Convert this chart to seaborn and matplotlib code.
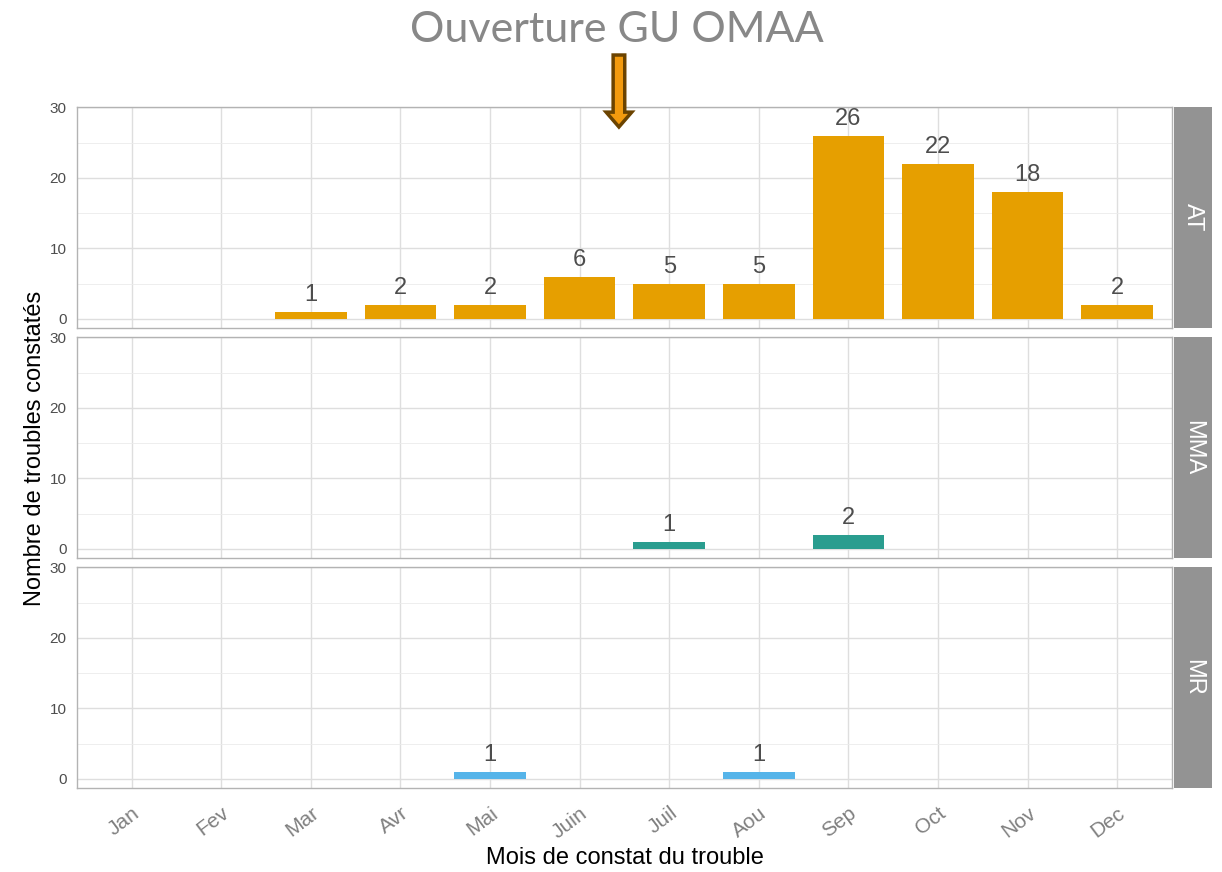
import matplotlib
matplotlib.use("Agg")
import matplotlib.pyplot as plt
import seaborn as sns
from matplotlib.patches import FancyArrow, Rectangle

# data
months = ["Jan", "Fev", "Mar", "Avr", "Mai", "Juin", "Juil", "Aou", "Sep", "Oct", "Nov", "Dec"]
at_counts = [0, 0, 1, 2, 2, 6, 5, 5, 26, 22, 18, 2]
mma_counts = [0, 0, 0, 0, 0, 0, 1, 0, 2, 0, 0, 0]
mr_counts = [0, 0, 0, 0, 1, 0, 0, 1, 0, 0, 0, 0]
facets = ["AT", "MMA", "MR"]
colors = ["#E69F00", "#2A9D8F", "#56B4E9"]
y_ticks = [0, 10, 20, 30]

sns.set_style("white")
plt.rcParams["font.family"] = ["Liberation Sans", "DejaVu Sans"]

fig = plt.figure(figsize=(12.22, 8.72), dpi=100)

left, width = 0.063, 0.896
bottoms = [0.6239, 0.3601, 0.0963]
height = 0.2534

for i, (name, vals, col) in enumerate(zip(facets, [at_counts, mma_counts, mr_counts], colors)):
    ax = fig.add_axes([left, bottoms[i], width, height])
    sns.barplot(x=months, y=vals, ax=ax, color=col, width=0.8, linewidth=0, saturation=1)
    ax.set_xlim(-0.61, 11.61)
    ax.set_ylim(-1.28, 30.05)
    ax.set_yticks(y_ticks)
    ax.set_yticks([5, 15, 25], minor=True)
    ax.set_xticks(range(len(months)))
    ax.grid(True, which="major", color="#DEDEDE", linewidth=1.0)
    ax.grid(True, which="minor", axis="y", color="#EBEBEB", linewidth=0.6)
    ax.set_axisbelow(True)
    for s in ax.spines.values():
        s.set_color("#B3B3B3")
        s.set_linewidth(1.0)
    ax.tick_params(axis="both", which="major", color="#B3B3B3", length=4, width=0.8,
                   labelsize=11, labelcolor="#4D4D4D")
    ax.tick_params(axis="y", which="minor", length=0)
    ax.set_xlabel("")
    ax.set_ylabel("")
    labels = [str(v) if v > 0 else "" for v in vals]
    ax.bar_label(ax.containers[0], labels=labels, padding=4, fontsize=17, color="#4D4D4D")
    if i < 2:
        ax.tick_params(axis="x", labelbottom=False, length=0)
    else:
        ax.set_xticklabels(months, rotation=37, ha="right", rotation_mode="anchor",
                           fontsize=15, color="#808080")
        ax.tick_params(axis="x", pad=7)

    # facet strip
    fig.add_artist(Rectangle((0.9607, bottoms[i]), 0.0311, height, transform=fig.transFigure,
                             facecolor="#939393", edgecolor="none"))
    fig.text(0.9607 + 0.0311 / 2, bottoms[i] + height / 2, name, rotation=-90,
             ha="center", va="center", color="white", fontsize=17)

fig.text(0.029, 0.486, "Nombre de troubles constatés", rotation=90, ha="center", va="center",
         fontsize=17, color="black")
fig.text(0.511, 0.016, "Mois de constat du trouble", ha="center", va="center",
         fontsize=17, color="black")

fig.text(0.505, 0.966, "Ouverture GU OMAA", ha="center", va="center", fontsize=31,
         color="#888888", family=["Lato", "DejaVu Sans"])

fig.add_artist(FancyArrow(0.5065, 0.9369, 0, -0.0825, width=0.0095, head_width=0.021,
                          head_length=0.017, length_includes_head=True,
                          transform=fig.transFigure, facecolor="#F39A0E",
                          edgecolor="#6B4300", linewidth=2.5))

fig.savefig("out.png", dpi=100)
